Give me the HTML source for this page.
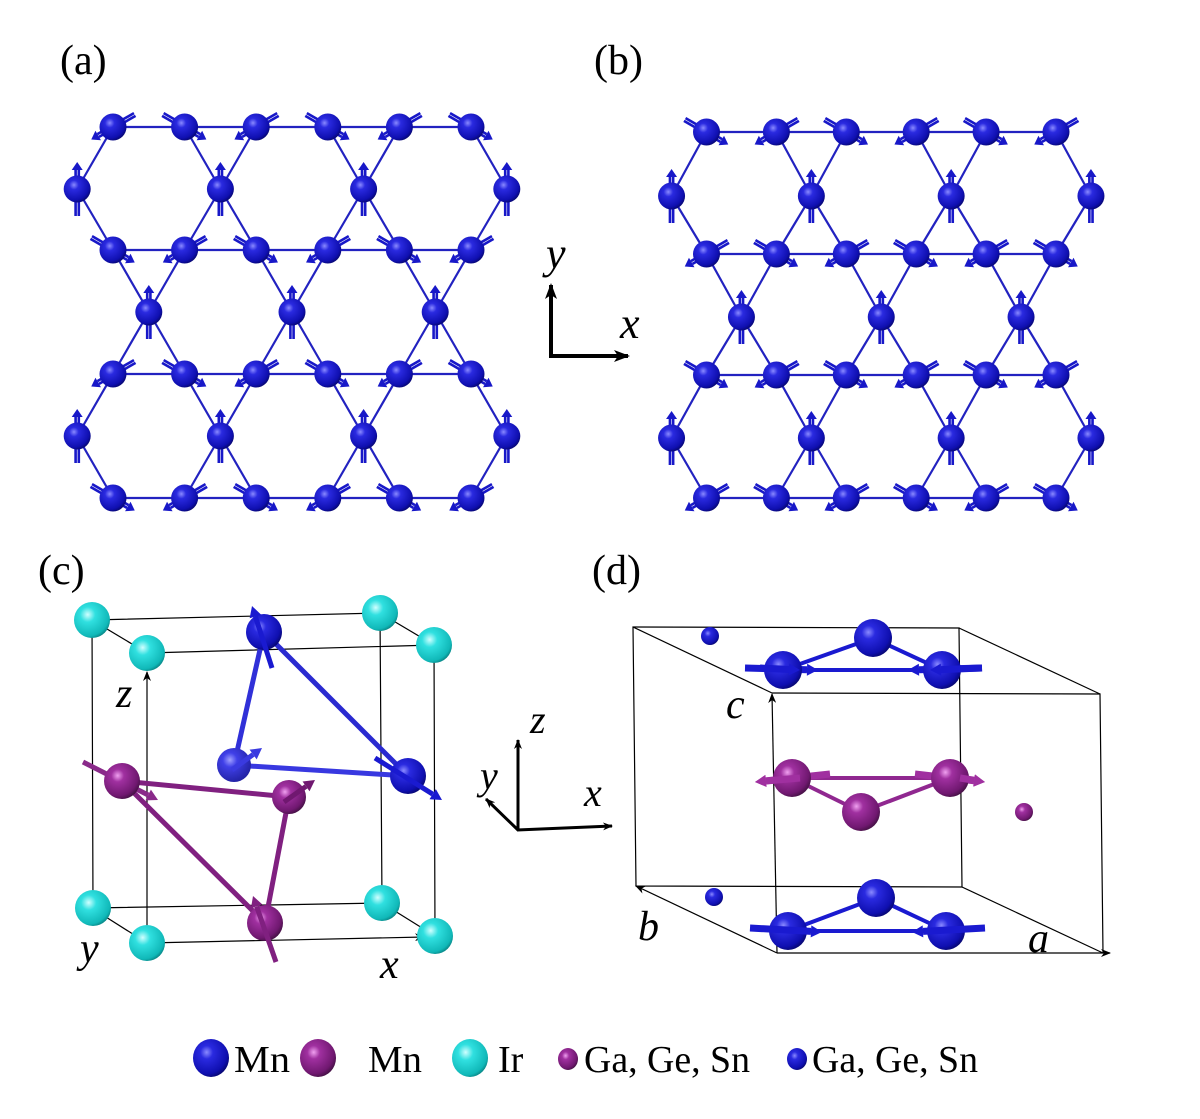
<!DOCTYPE html>
<html><head><meta charset="utf-8"><style>
html,body{margin:0;padding:0;background:#fff}
svg{display:block}
.t{font-family:"Liberation Serif",serif;fill:#000}
.it{font-family:"Liberation Serif",serif;font-style:italic;fill:#000}
</style></head><body>
<svg id="s" width="1200" height="1119" viewBox="0 0 1200 1119" xmlns="http://www.w3.org/2000/svg">
<defs>
<radialGradient id="gb" cx="0.38" cy="0.35" r="0.7"><stop offset="0" stop-color="#8a8aff"/><stop offset="0.25" stop-color="#2a2ae0"/><stop offset="0.8" stop-color="#0f0fb0"/><stop offset="1" stop-color="#06066a"/></radialGradient>
<radialGradient id="gp" cx="0.38" cy="0.35" r="0.7"><stop offset="0" stop-color="#f0a0f0"/><stop offset="0.25" stop-color="#a030a0"/><stop offset="0.8" stop-color="#701870"/><stop offset="1" stop-color="#401040"/></radialGradient>
<radialGradient id="gc" cx="0.38" cy="0.35" r="0.7"><stop offset="0" stop-color="#d0ffff"/><stop offset="0.3" stop-color="#30e0e0"/><stop offset="0.85" stop-color="#10b8b8"/><stop offset="1" stop-color="#088080"/></radialGradient>
<radialGradient id="gl" cx="0.38" cy="0.35" r="0.7"><stop offset="0" stop-color="#a0a0ff"/><stop offset="0.3" stop-color="#4040e8"/><stop offset="1" stop-color="#2020a0"/></radialGradient>
<marker id="ak" markerWidth="10" markerHeight="8" refX="9" refY="4" orient="auto" markerUnits="userSpaceOnUse"><path d="M0,0 L10,4 L0,8 L3,4 Z" fill="#000"/></marker>
<marker id="ak2" markerWidth="16" markerHeight="12" refX="14" refY="6" orient="auto" markerUnits="userSpaceOnUse"><path d="M0,0 L16,6 L0,12 L4,6 Z" fill="#000"/></marker>
</defs>
<g id="lat"></g>

<text class="t" x="60" y="74" font-size="42">(a)</text>
<text class="t" x="594" y="74" font-size="42">(b)</text>
<text class="t" x="38" y="584" font-size="42">(c)</text>
<text class="t" x="592" y="584" font-size="42">(d)</text>

<line x1="551" y1="357" x2="551" y2="285" stroke="#000" stroke-width="4" marker-end="url(#ak2)"/>
<line x1="549" y1="356" x2="628" y2="356" stroke="#000" stroke-width="4" marker-end="url(#ak2)"/>
<text class="it" x="546" y="268" font-size="44">y</text>
<text class="it" x="620" y="338" font-size="44">x</text>

<line x1="518" y1="830" x2="518" y2="740" stroke="#000" stroke-width="3" marker-end="url(#ak)"/>
<line x1="517" y1="830" x2="612" y2="826" stroke="#000" stroke-width="3" marker-end="url(#ak)"/>
<line x1="518" y1="830" x2="486" y2="799" stroke="#000" stroke-width="3" marker-end="url(#ak)"/>
<text class="it" x="530" y="733" font-size="40">z</text>
<text class="it" x="480" y="789" font-size="40">y</text>
<text class="it" x="584" y="806" font-size="40">x</text>

<g stroke="#000" stroke-width="1.2" fill="none">
<polygon points="92,620 380,613 382,903 93,908"/>
<polyline points="147,653 434,645 435,936"/>
<line x1="92" y1="620" x2="147" y2="653"/><line x1="380" y1="613" x2="434" y2="645"/>
<line x1="382" y1="903" x2="435" y2="936"/>
<line x1="147" y1="943" x2="147" y2="672" marker-end="url(#ak)"/>
<line x1="147" y1="943" x2="424" y2="937" marker-end="url(#ak)"/>
<line x1="147" y1="943" x2="98" y2="912" marker-end="url(#ak)"/>
</g>
<text class="it" x="116" y="707" font-size="42">z</text>
<text class="it" x="80" y="962" font-size="42">y</text>
<text class="it" x="380" y="978" font-size="42">x</text>
<g id="pc"></g>

<g stroke="#000" stroke-width="1.2" fill="none">
<polygon points="633,627 959,628 962,887 636,886"/>
<polyline points="772,693 1100,694 1103,953"/>
<line x1="633" y1="627" x2="772" y2="693"/><line x1="959" y1="628" x2="1100" y2="694"/>
<line x1="962" y1="887" x2="1103" y2="953"/>
<line x1="777" y1="953" x2="772" y2="694" marker-end="url(#ak)"/>
<line x1="777" y1="953" x2="1110" y2="953" marker-end="url(#ak)"/>
<line x1="777" y1="953" x2="636" y2="886" marker-end="url(#ak)"/>
</g>
<text class="it" x="726" y="718" font-size="42">c</text>
<text class="it" x="638" y="940" font-size="42">b</text>
<text class="it" x="1028" y="952" font-size="42">a</text>
<g id="pd"></g>

<ellipse cx="211" cy="1058" rx="18" ry="19" fill="url(#gb)"/>
<text class="t" x="234" y="1072" font-size="38" textLength="56" lengthAdjust="spacingAndGlyphs">Mn</text>
<ellipse cx="318" cy="1058" rx="18" ry="19" fill="url(#gp)"/>
<text class="t" x="368" y="1072" font-size="38" textLength="54" lengthAdjust="spacingAndGlyphs">Mn</text>
<ellipse cx="470" cy="1058" rx="18" ry="19" fill="url(#gc)"/>
<text class="t" x="498" y="1072" font-size="38">Ir</text>
<ellipse cx="568" cy="1059" rx="10" ry="11" fill="url(#gp)"/>
<text class="t" x="584" y="1072" font-size="38" textLength="166" lengthAdjust="spacingAndGlyphs">Ga, Ge, Sn</text>
<ellipse cx="797" cy="1059" rx="10" ry="11" fill="url(#gb)"/>
<text class="t" x="812" y="1072" font-size="38" textLength="166" lengthAdjust="spacingAndGlyphs">Ga, Ge, Sn</text>
</svg>
<script>
var NS="http://www.w3.org/2000/svg";
function el(p,n,a){var e=document.createElementNS(NS,n);for(var k in a)e.setAttribute(k,a[k]);p.appendChild(e);return e;}
var lat=document.getElementById('lat');
var L1=el(lat,'g',{}),L2=el(lat,'g',{}),L3=el(lat,'g',{});
function spin(g,x,y,dx,dy,len,col){
  var tx=x-dx*len,ty=y-dy*len,hx=x+dx*len,hy=y+dy*len;
  var px=-dy,py=dx;
  var bx=hx-dx*8,by=hy-dy*8;
  el(g,'line',{x1:tx+px*1.6,y1:ty+py*1.6,x2:bx+px*1.6,y2:by+py*1.6,stroke:col,'stroke-width':2.6});
  el(g,'line',{x1:tx-px*1.6,y1:ty-py*1.6,x2:bx-px*1.6,y2:by-py*1.6,stroke:col,'stroke-width':2.6});
  el(g,'polygon',{points:[hx,hy,bx+px*5.5,by+py*5.5,bx-px*5.5,by-py*5.5].join(','),fill:col});
}
function lattice(x0,a,rows,verts,mid,pat){
  var atoms=[];
  rows.forEach(function(y,ri){for(var k=0;k<6;k++){var x=x0+a*k;var even=(k%2==0);var dl=pat[ri%2]?even:!even;atoms.push({x:x,y:y,t:'r',d:dl?[-0.87,0.5]:[0.87,0.5]});}});
  [verts[0],verts[2]].forEach(function(y){for(var k=0;k<4;k++)atoms.push({x:x0-a/2+2*a*k,y:y,t:'v'});});
  for(var k=0;k<3;k++)atoms.push({x:x0+a/2+2*a*k,y:verts[1],t:'v'});
  for(var i=0;i<atoms.length;i++)for(var j=i+1;j<atoms.length;j++){
    var A=atoms[i],B=atoms[j];var dx=B.x-A.x,dy=B.y-A.y;
    if(A.t=='r'&&B.t=='r'&&Math.abs(dy)<2&&Math.abs(Math.abs(dx)-a)<4) el(L1,'line',{x1:A.x,y1:A.y,x2:B.x,y2:B.y,stroke:'#2222c0','stroke-width':2.2});
    else if(A.t!=B.t&&Math.abs(Math.abs(dx)-a/2)<4&&Math.abs(Math.abs(dy)-62)<6) el(L1,'line',{x1:A.x,y1:A.y,x2:B.x,y2:B.y,stroke:'#2222c0','stroke-width':2.2});
  }
  atoms.forEach(function(A){
    if(A.t=='r')spin(L2,A.x,A.y,A.d[0],A.d[1],25,'#1818c8');else spin(L2,A.x,A.y,0,-1,27,'#1818c8');
    el(L3,'circle',{cx:A.x,cy:A.y,r:13.5,fill:'url(#gb)'});
  });
}
lattice(113,71.6,[127,250,374,498],[189,312,436],0,[true,false]);
lattice(706.5,69.9,[132,254,375,498],[196,317,438],0,[false,true]);

var pc=document.getElementById('pc');
function ball(g,x,y,r,f){el(g,'circle',{cx:x,cy:y,r:r,fill:f});}
function stick(g,x1,y1,x2,y2,c,w){el(g,'line',{x1:x1,y1:y1,x2:x2,y2:y2,stroke:c,'stroke-width':w});}
function arr(g,x1,y1,x2,y2,c,w){var dx=x2-x1,dy=y2-y1,d=Math.hypot(dx,dy);dx/=d;dy/=d;var bx=x2-dx*11,by=y2-dy*11;stick(g,x1,y1,bx,by,c,w);el(g,'polygon',{points:[x2,y2,bx-dy*6,by+dx*6,bx+dy*6,by-dx*6].join(','),fill:c});}
ball(pc,92,620,18,'url(#gc)');ball(pc,380,613,18,'url(#gc)');ball(pc,93,908,18,'url(#gc)');ball(pc,382,903,18,'url(#gc)');
stick(pc,264,632,234,765,'#3030d8',5);stick(pc,264,632,408,776,'#2a2ad0',5);stick(pc,234,765,408,776,'#3838e0',5);
arr(pc,83,762,158,800,'#8a2a8a',5);
stick(pc,122,781,289,797,'#802080',5);stick(pc,122,781,265,923,'#802080',5);stick(pc,289,797,265,923,'#802080',5);
ball(pc,234,765,17,'url(#gl)');arr(pc,232,770,262,748,'#3a3ae0',5);
ball(pc,264,632,18,'url(#gb)');arr(pc,272,668,252,606,'#1a1ad0',5);
ball(pc,408,776,18,'url(#gb)');arr(pc,375,758,442,800,'#1a1ad0',5);
ball(pc,122,781,18,'url(#gp)');
ball(pc,289,797,17,'url(#gp)');arr(pc,284,802,315,780,'#701870',5);
ball(pc,265,923,18,'url(#gp)');arr(pc,276,962,253,896,'#802080',5);
ball(pc,147,653,18,'url(#gc)');ball(pc,434,645,18,'url(#gc)');ball(pc,147,943,18,'url(#gc)');ball(pc,435,936,18,'url(#gc)');

var pd=document.getElementById('pd');
ball(pd,710,636,9,'url(#gb)');
stick(pd,783,670,873,638,'#1a1ad0',4);stick(pd,942,670,873,638,'#1a1ad0',4);
ball(pd,873,638,19,'url(#gb)');
stick(pd,783,670,942,670,'#1a1ad0',4);
arr(pd,745,668,818,670,'#1a1ad0',7);arr(pd,982,668,908,670,'#1a1ad0',7);
ball(pd,783,670,19,'url(#gb)');ball(pd,942,670,19,'url(#gb)');
arr(pd,760,668,800,670,'#1a1ad0',7);arr(pd,982,668,930,670,'#1a1ad0',7);
ball(pd,1024,812,9,'url(#gp)');
stick(pd,792,778,950,778,'#902890',4);stick(pd,792,778,861,812,'#902890',4);stick(pd,950,778,861,812,'#902890',4);
arr(pd,830,774,755,782,'#a030a0',7);arr(pd,915,774,985,782,'#a030a0',7);
ball(pd,792,778,19,'url(#gp)');ball(pd,950,778,19,'url(#gp)');ball(pd,861,812,19,'url(#gp)');
arr(pd,800,778,755,782,'#a030a0',7);arr(pd,960,778,985,782,'#a030a0',7);
ball(pd,714,897,9,'url(#gb)');
stick(pd,788,931,876,898,'#1a1ad0',4);stick(pd,946,931,876,898,'#1a1ad0',4);
ball(pd,876,898,19,'url(#gb)');
stick(pd,788,931,946,931,'#1a1ad0',4);
ball(pd,788,931,19,'url(#gb)');ball(pd,946,931,19,'url(#gb)');
arr(pd,750,928,822,932,'#1a1ad0',7);arr(pd,985,928,912,932,'#1a1ad0',7);
</script>
</body></html>
